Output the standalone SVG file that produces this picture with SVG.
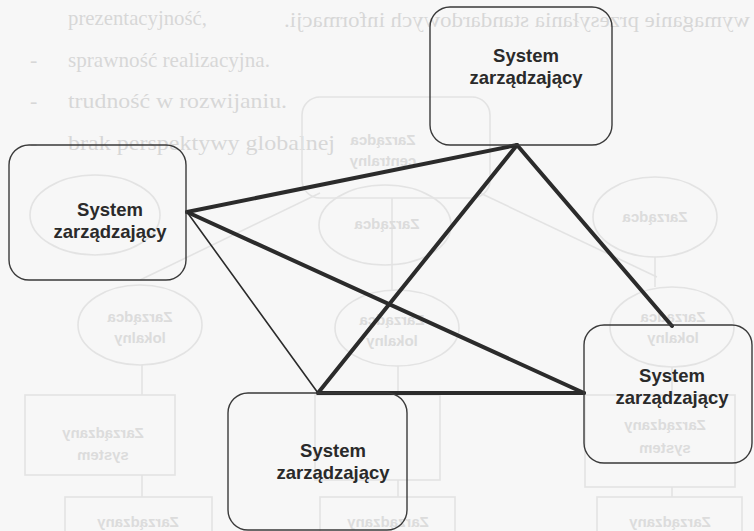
<svg xmlns="http://www.w3.org/2000/svg" width="754" height="531" viewBox="0 0 754 531">
  <defs>
    <style>
      .page { fill: #f7f7f7; }
      .faint-text { font-family: "Liberation Serif", "Times New Roman", serif; font-size: 22px; fill: #d7d7d7; }
      .faint-label { font-family: "Liberation Sans", Arial, sans-serif; font-size: 15px; font-weight: bold; fill: #dcdcdc; text-anchor: middle; }
      .faint-shape { fill: none; stroke: #e3e3e3; stroke-width: 1.6; }
      .node-box { fill: none; stroke: #3a3a3a; stroke-width: 1.4; }
      .node-label { font-family: "Liberation Sans", Arial, sans-serif; font-size: 18.5px; font-weight: bold; fill: #2a2a2a; text-anchor: middle; }
      .link { stroke: #2b2b2b; stroke-linecap: round; fill: none; }
      .thick { stroke-width: 4; }
      .thin { stroke-width: 1.6; }
    </style>
  </defs>

  <rect class="page" x="0" y="0" width="754" height="531"/>

  <!-- faded page content underneath -->
  <g id="underlay">
    <g class="faint-text">
      <text x="68" y="25" textLength="139" lengthAdjust="spacingAndGlyphs">prezentacyjność,</text>
      <text x="68" y="67" textLength="202" lengthAdjust="spacingAndGlyphs">sprawność realizacyjna.</text>
      <text x="68" y="108" textLength="219" lengthAdjust="spacingAndGlyphs">trudność w rozwijaniu.</text>
      <text x="68" y="150" textLength="267" lengthAdjust="spacingAndGlyphs">brak perspektywy globalnej</text>
      <text x="30" y="67">-</text>
      <text x="30" y="108">-</text>
      <text x="30" y="150">-</text>
      <text transform="scale(-1,1)" x="-750" y="27" textLength="466" lengthAdjust="spacingAndGlyphs">wymaganie przesyłania standardowych informacji.</text>
    </g>
    <g class="faint-shape">
      <rect x="302" y="97" width="188" height="101" rx="18"/>
      <ellipse cx="385" cy="225" rx="66" ry="40"/>
      <ellipse cx="655" cy="217" rx="62" ry="40"/>
      <ellipse cx="95" cy="215" rx="65" ry="40"/>
      <ellipse cx="140" cy="325" rx="62" ry="40"/>
      <ellipse cx="397" cy="328" rx="62" ry="38"/>
      <ellipse cx="672" cy="327" rx="62" ry="40"/>
      <line x1="320" y1="193" x2="140" y2="280"/>
      <line x1="480" y1="193" x2="657" y2="277"/>
      <line x1="392" y1="198" x2="392" y2="290"/>
      <line x1="655" y1="257" x2="655" y2="287"/>
      <line x1="142" y1="365" x2="142" y2="395"/>
      <line x1="398" y1="366" x2="398" y2="395"/>
      <line x1="672" y1="367" x2="672" y2="395"/>
      <rect x="25" y="395" width="150" height="80"/>
      <rect x="315" y="395" width="125" height="85"/>
      <rect x="585" y="395" width="150" height="92"/>
      <line x1="142" y1="475" x2="142" y2="497"/>
      <line x1="398" y1="480" x2="398" y2="497"/>
      <line x1="672" y1="487" x2="672" y2="497"/>
      <rect x="65" y="497" width="147" height="40"/>
      <rect x="320" y="497" width="135" height="40"/>
      <rect x="597" y="497" width="145" height="40"/>
    </g>
    <g class="faint-label">
      <text transform="scale(-1,1)" x="-383" y="145">Zarządca</text>
      <text transform="scale(-1,1)" x="-383" y="166">centralny</text>
      <text transform="scale(-1,1)" x="-387" y="229">Zarządca</text>
      <text transform="scale(-1,1)" x="-655" y="222">Zarządca</text>
      <text transform="scale(-1,1)" x="-140" y="322">Zarządca</text>
      <text transform="scale(-1,1)" x="-140" y="343">lokalny</text>
      <text transform="scale(-1,1)" x="-392" y="325">Zarządca</text>
      <text transform="scale(-1,1)" x="-392" y="346">lokalny</text>
      <text transform="scale(-1,1)" x="-673" y="322">Zarządca</text>
      <text transform="scale(-1,1)" x="-673" y="343">lokalny</text>
      <text transform="scale(-1,1)" x="-103" y="438">Zarządzany</text>
      <text transform="scale(-1,1)" x="-103" y="460">system</text>
      <text transform="scale(-1,1)" x="-665" y="430">Zarządzany</text>
      <text transform="scale(-1,1)" x="-665" y="453">system</text>
      <text transform="scale(-1,1)" x="-138" y="527">Zarządzany</text>
      <text transform="scale(-1,1)" x="-388" y="527">Zarządzany</text>
      <text transform="scale(-1,1)" x="-670" y="527">Zarządzany</text>
    </g>
  </g>

  <!-- connectors between the management systems -->
  <g id="connectors">
    <line class="link thick" x1="187" y1="212" x2="517" y2="145"/>
    <line class="link thick" x1="187" y1="212" x2="584" y2="393"/>
    <line class="link thin" x1="187" y1="212" x2="318" y2="393"/>
    <line class="link thick" x1="517" y1="145" x2="318" y2="393"/>
    <line class="link thick" x1="517" y1="145" x2="672" y2="326"/>
    <line class="link thick" x1="318" y1="393" x2="584" y2="393"/>
  </g>

  <g id="system-top">
    <rect class="node-box" x="430" y="7" width="182" height="138" rx="20"/>
    <text class="node-label" x="526" y="62">System</text>
    <text class="node-label" x="526" y="84">zarządzający</text>
  </g>

  <g id="system-left">
    <rect class="node-box" x="9" y="145" width="177" height="135" rx="20"/>
    <text class="node-label" x="110" y="216">System</text>
    <text class="node-label" x="110" y="238">zarządzający</text>
  </g>

  <g id="system-bottom">
    <rect class="node-box" x="228" y="393" width="179" height="137" rx="20"/>
    <text class="node-label" x="333" y="457">System</text>
    <text class="node-label" x="333" y="479">zarządzający</text>
  </g>

  <g id="system-right">
    <rect class="node-box" x="584" y="325" width="168" height="138" rx="20"/>
    <text class="node-label" x="672" y="382">System</text>
    <text class="node-label" x="672" y="404">zarządzający</text>
  </g>
</svg>
